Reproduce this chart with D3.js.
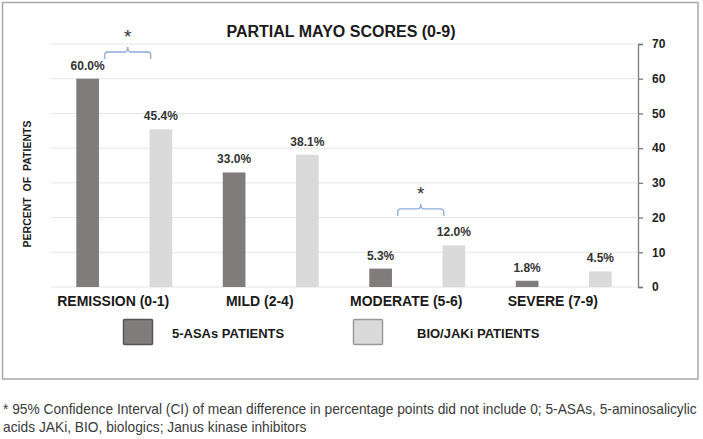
<!DOCTYPE html>
<html>
<head>
<meta charset="utf-8">
<script src="https://cdn.jsdelivr.net/npm/d3@7"></script>
<style>
  html, body { margin: 0; padding: 0; background: #ffffff; }
  svg { display: block; }
  text { font-family: "Liberation Sans", Arial, sans-serif; }
</style>
</head>
<body>
<svg id="chart" width="703" height="439"></svg>
<script>
// ---------- data ----------
const title = "PARTIAL MAYO SCORES (0-9)";
const yAxisTitle = "PERCENT  OF  PATIENTS";
const categories = ["REMISSION (0-1)", "MILD (2-4)", "MODERATE (5-6)", "SEVERE (7-9)"];
const seriesNames = ["5-ASAs PATIENTS", "BIO/JAKi PATIENTS"];
const asaValues = [60.0, 33.0, 5.3, 1.8];
const bioValues = [45.4, 38.1, 12.0, 4.5];
const yTicks = [0, 10, 20, 30, 40, 50, 60, 70];
const sigCategories = ["REMISSION (0-1)", "MODERATE (5-6)"];
const sigLevels = [67.7, 22.5];
const footnoteLines = [
  "* 95% Confidence Interval (CI) of mean difference in percentage points did not include 0; 5-ASAs, 5-aminosalicylic",
  "acids JAKi, BIO, biologics; Janus kinase inhibitors"
];

// ---------- layout ----------
const svg = d3.select("#chart");
const W = 703, H = 439;
const plot = { left: 51, right: 637, top: 44, bottom: 287 };
const colors = { [seriesNames[0]]: "#807c7c", [seriesNames[1]]: "#dadada" };
const legendBorder = { [seriesNames[0]]: "#555555", [seriesNames[1]]: "#9a9a9a" };

svg.append("rect").attr("x", 0).attr("y", 0).attr("width", W).attr("height", H).attr("fill", "#fff");
// frame
svg.append("rect").attr("x", 2.5).attr("y", 2.5).attr("width", 695.5).attr("height", 376.5)
  .attr("fill", "none").attr("stroke", "#a8a8a8").attr("stroke-width", 1.5);

const x = d3.scaleBand().domain(categories).range([plot.left, plot.right]).padding(0);
const x1 = d3.scaleBand().domain(seriesNames).range([0, x.bandwidth()]).paddingInner(0.69).paddingOuter(0.345);
const y = d3.scaleLinear().domain([0, 70]).range([plot.bottom, plot.top]);

// gridlines
svg.append("g").selectAll("line").data(yTicks).join("line")
  .attr("x1", plot.left).attr("x2", plot.right)
  .attr("y1", d => y(d)).attr("y2", d => y(d))
  .attr("stroke", "#e4e4e4").attr("stroke-width", 1);

// bars
const rows = categories.map((c, i) => ({ cat: c, vals: [
  { s: seriesNames[0], v: asaValues[i] },
  { s: seriesNames[1], v: bioValues[i] }
]}));
const groups = svg.append("g").selectAll("g").data(rows).join("g")
  .attr("transform", d => `translate(${x(d.cat)},0)`);
groups.selectAll("rect").data(d => d.vals).join("rect")
  .attr("x", d => x1(d.s)).attr("width", x1.bandwidth())
  .attr("y", d => y(d.v)).attr("height", d => y(0) - y(d.v))
  .attr("fill", d => colors[d.s]);
groups.selectAll("text").data(d => d.vals).join("text")
  .attr("x", d => x1(d.s) + x1.bandwidth() / 2)
  .attr("y", d => y(d.v) - 9)
  .attr("text-anchor", "middle")
  .attr("font-size", 12).attr("font-weight", "bold").attr("fill", "#333")
  .text(d => d.v.toFixed(1) + "%");

// right axis
const axis = svg.append("g").attr("transform", `translate(${plot.right + 1},0)`)
  .call(d3.axisRight(y).tickValues(yTicks).tickSize(5).tickSizeOuter(5).tickPadding(9));
axis.select(".domain").attr("stroke", "#7a7a7a").attr("stroke-width", 1.3);
axis.selectAll(".tick line").attr("stroke", "#7a7a7a").attr("stroke-width", 1.3);
axis.selectAll(".tick text").attr("font-size", 12).attr("font-weight", "bold")
  .attr("fill", "#222").attr("font-family", "'Liberation Sans', Arial, sans-serif");

// category labels
svg.append("g").selectAll("text").data(categories).join("text")
  .attr("x", d => x(d) + x.bandwidth() / 2 - 11)
  .attr("y", 306)
  .attr("text-anchor", "middle")
  .attr("font-size", 14).attr("font-weight", "bold").attr("fill", "#1a1a1a")
  .text(d => d);

// title
svg.append("text").attr("x", 341).attr("y", 37).attr("text-anchor", "middle")
  .attr("font-size", 16).attr("font-weight", "bold").attr("fill", "#1a1a1a")
  .text(title);

// y axis title
svg.append("text").attr("transform", "translate(31,184) rotate(-90)")
  .attr("text-anchor", "middle").attr("font-size", 10.5).attr("font-weight", "bold").attr("fill", "#1a1a1a")
  .attr("xml:space", "preserve").style("white-space", "pre")
  .text(yAxisTitle);

// significance braces
const braceColor = "#8faadc";
sigCategories.forEach((c, i) => {
  const cx = x(c) + x.bandwidth() / 2 + 3.5;
  const hw = 23;
  const ly = y(sigLevels[i]);
  const up = 5, down = 7, r = 3;
  const p = d3.path();
  p.moveTo(cx - hw, ly + down);
  p.lineTo(cx - hw, ly + r);
  p.quadraticCurveTo(cx - hw, ly, cx - hw + r, ly);
  p.lineTo(cx - r, ly);
  p.quadraticCurveTo(cx, ly, cx, ly - up);
  p.quadraticCurveTo(cx, ly, cx + r, ly);
  p.lineTo(cx + hw - r, ly);
  p.quadraticCurveTo(cx + hw, ly, cx + hw, ly + r);
  p.lineTo(cx + hw, ly + down);
  svg.append("path").attr("d", p.toString()).attr("fill", "none")
    .attr("stroke", braceColor).attr("stroke-width", 1.3);
  svg.append("text").attr("x", cx).attr("y", ly - up - 4)
    .attr("text-anchor", "middle").attr("font-size", 19).attr("fill", "#333")
    .text("*");
});

// legend
const legendItems = [
  { s: seriesNames[0], bx: 123, tx: 172 },
  { s: seriesNames[1], bx: 353, tx: 417 }
];
const lg = svg.append("g");
lg.selectAll("rect").data(legendItems).join("rect")
  .attr("x", d => d.bx + 0.5).attr("y", 319.5).attr("width", 29).attr("height", 25)
  .attr("fill", d => colors[d.s]).attr("stroke", d => legendBorder[d.s]).attr("stroke-width", 1.5).attr("rx", 1);
lg.selectAll("text").data(legendItems).join("text")
  .attr("x", d => d.tx).attr("y", 338)
  .attr("font-size", 13).attr("font-weight", "bold").attr("fill", "#1a1a1a")
  .text(d => d.s);

// footnote
const fn = svg.append("g").selectAll("text").data(footnoteLines).join("text")
  .attr("x", 3).attr("y", (d, i) => 414 + i * 18)
  .attr("font-size", 12).attr("fill", "#3a3a3a")
  .text(d => d);
const firstLen = fn.nodes()[0].getComputedTextLength();
const fs = 12 * 694 / firstLen;
fn.attr("font-size", fs);
</script>
</body>
</html>
